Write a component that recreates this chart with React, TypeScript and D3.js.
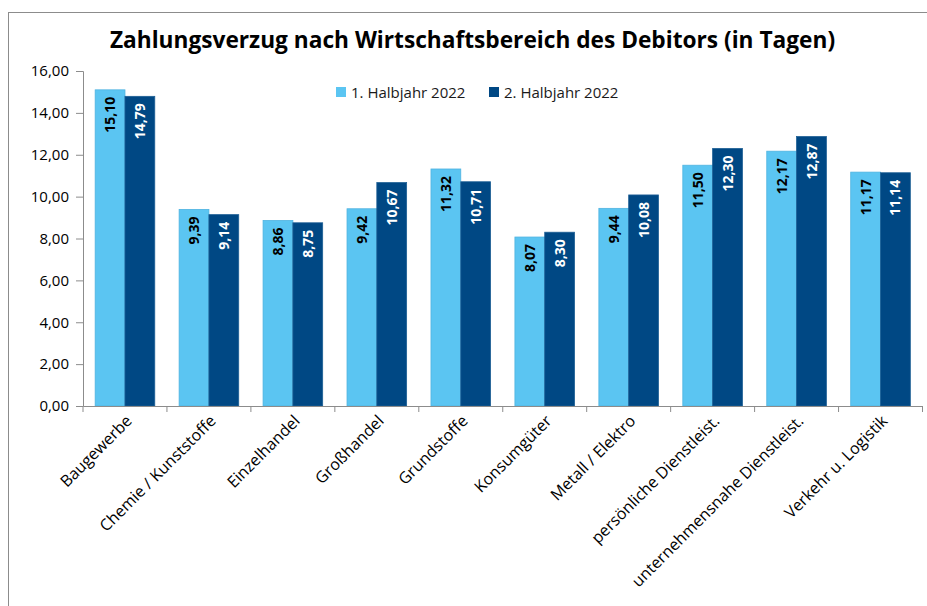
import React, { useRef, useEffect } from "react";
import * as d3 from "d3";

const categories = [
  "Baugewerbe",
  "Chemie / Kunststoffe",
  "Einzelhandel",
  "Großhandel",
  "Grundstoffe",
  "Konsumgüter",
  "Metall / Elektro",
  "persönliche Dienstleist.",
  "unternehmensnahe Dienstleist.",
  "Verkehr u. Logistik",
];
const firstHalf = [15.1, 9.39, 8.86, 9.42, 11.32, 8.07, 9.44, 11.5, 12.17, 11.17];
const secondHalf = [14.79, 9.14, 8.75, 10.67, 10.71, 8.3, 10.08, 12.3, 12.87, 11.14];
const seriesNames = ["1. Halbjahr 2022", "2. Halbjahr 2022"];
const yTicks = [0, 2, 4, 6, 8, 10, 12, 14, 16];

const colors = ["#5bc5f2", "#004884"];
const labelColors = ["#000000", "#ffffff"];
const font = "'Open Sans', 'Noto Sans', sans-serif";

const App = () => {
  const container = useRef<SVGSVGElement | null>(null);
  const width = 927;
  const height = 606;

  useEffect(() => {
    const svg = d3.select(container.current);
    svg.selectAll("*").remove();

    // outer frame of the chart area
    svg
      .append("rect")
      .attr("x", 8.5)
      .attr("y", 12.5)
      .attr("width", 1000)
      .attr("height", 1000)
      .attr("fill", "white")
      .attr("stroke", "#8c8c8c");

    svg
      .append("text")
      .attr("x", 472.5)
      .attr("y", 48)
      .attr("text-anchor", "middle")
      .style("font-family", font)
      .style("font-weight", "bold")
      .style("font-size", "22.7px")
      .text("Zahlungsverzug nach Wirtschaftsbereich des Debitors (in Tagen)");

    const xScale = d3
      .scaleBand()
      .domain(categories)
      .range([83, 922.5])
      .paddingInner(0)
      .paddingOuter(0);

    const yScale = d3.scaleLinear().domain([0, 16]).range([406, 71]);

    const bw = xScale.bandwidth();
    const barW = bw * 0.355;
    const sub = d3
      .scaleBand()
      .domain(["0", "1"])
      .range([(bw - 2 * barW) / 2, (bw + 2 * barW) / 2]);

    const data = [firstHalf, secondHalf];

    // y axis
    const yAxis = d3
      .axisLeft(yScale)
      .tickValues(yTicks)
      .tickSize(7)
      .tickFormat((d) => d3.format(".2f")(d as number).replace(".", ","));
    const gy = svg.append("g").attr("transform", "translate(83,0)").call(yAxis);
    gy.selectAll("path,line").attr("stroke", "#8c8c8c");
    gy.selectAll("text")
      .attr("x", -14)
      .attr("fill", "#000")
      .style("font-family", font)
      .style("font-size", "15px");

    // bars
    data.forEach((vals, s) => {
      const g = svg.append("g");
      g.selectAll("rect")
        .data(vals)
        .enter()
        .append("rect")
        .attr("x", (d, i) => (xScale(categories[i]) as number) + (sub(String(s)) as number))
        .attr("y", (d) => yScale(d))
        .attr("width", barW)
        .attr("height", (d) => yScale(0) - yScale(d))
        .attr("fill", colors[s])
        .attr("stroke", s === 0 ? "#4fb3e0" : "#1d5f95")
        .attr("stroke-width", 0.8);

      g.selectAll("text")
        .data(vals)
        .enter()
        .append("text")
        .attr("transform", (d, i) => {
          const cx = (xScale(categories[i]) as number) + (sub(String(s)) as number) + barW / 2;
          return `translate(${cx},${yScale(d) + 7}) rotate(-90)`;
        })
        .attr("text-anchor", "end")
        .attr("dy", "0.36em")
        .attr("fill", labelColors[s])
        .style("font-family", font)
        .style("font-weight", "bold")
        .style("font-size", "14px")
        .text((d) => d3.format(".2f")(d).replace(".", ","));
    });

    // x axis
    const xAxis = d3.axisBottom(xScale).tickSize(0).tickFormat(() => "");
    const gx = svg.append("g").attr("transform", "translate(0,406)").call(xAxis);
    gx.select("path").attr("stroke", "#8c8c8c");
    gx.selectAll(".tick").remove();
    const edges = categories.map((c) => xScale(c) as number).concat([922.5]);
    gx.selectAll(".edge")
      .data(edges)
      .enter()
      .append("line")
      .attr("x1", (d) => d)
      .attr("x2", (d) => d)
      .attr("y1", 0)
      .attr("y2", 6)
      .attr("stroke", "#8c8c8c");

    svg
      .append("g")
      .selectAll("text")
      .data(categories)
      .enter()
      .append("text")
      .attr("transform", (d) => `translate(${(xScale(d) as number) + bw / 2 + 4},${418}) rotate(-45)`)
      .attr("text-anchor", "end")
      .attr("dy", "0.35em")
      .style("font-family", font)
      .style("font-size", "16px")
      .attr("fill", "#000")
      .text((d) => d);

    // legend
    const legend = svg.append("g").attr("transform", "translate(336,87)");
    seriesNames.forEach((name, i) => {
      const lx = i * 153;
      legend
        .append("rect")
        .attr("x", lx)
        .attr("y", 0)
        .attr("width", 10)
        .attr("height", 10)
        .attr("fill", colors[i]);
      legend
        .append("text")
        .attr("x", lx + 15)
        .attr("y", 10.5)
        .style("font-family", font)
        .style("font-size", "15px")
        .attr("fill", "#1a1a1a")
        .text(name);
    });
  }, []);

  return (
    <svg
      ref={container}
      width={width}
      height={height}
      style={{ position: "absolute", left: 0, top: 0, background: "white" }}
    />
  );
};

export default App;
